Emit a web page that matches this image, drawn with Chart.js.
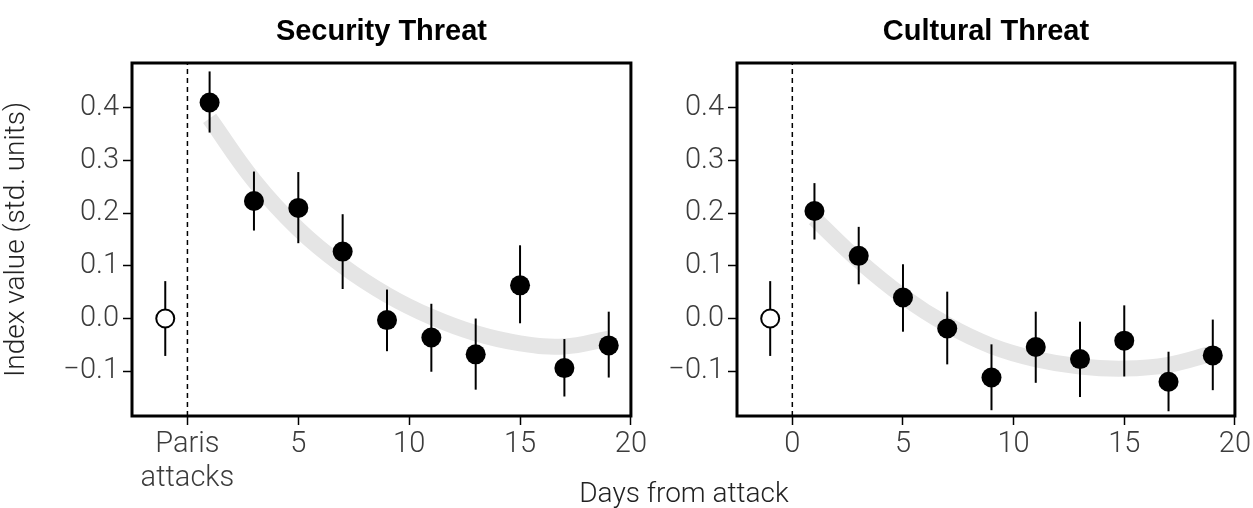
<!DOCTYPE html>
<html>
<head>
<meta charset="utf-8">
<script src="https://cdn.jsdelivr.net/npm/chart.js@4.4.1/dist/chart.umd.min.js"></script>
<style>
  body { margin: 0; background: #fff; }
  #wrap { position: relative; width: 1253px; height: 508px; }
  .panel { position: absolute; top: 0; height: 508px; }
  #xlab { position: absolute; left: 484px; width: 400px; top: 479px; text-align: center;
          font: 300 28px Roboto, "Liberation Sans", sans-serif; line-height: 1; color: #222; }
</style>
</head>
<body>
<div id="wrap">
  <div class="panel" style="left:0;width:649px"><canvas id="securityChart"></canvas></div>
  <div class="panel" style="left:645px;width:608px"><canvas id="culturalChart"></canvas></div>
  <div id="xlab">Days from attack</div>
</div>
<script>
// valori
const days = [1, 3, 5, 7, 9, 11, 13, 15, 17, 19];

const securityMean = [0.410, 0.223, 0.210, 0.127, -0.003, -0.036, -0.068, 0.063, -0.094, -0.051];
const securityLow  = [0.353, 0.167, 0.143, 0.056, -0.062, -0.101, -0.135, -0.009, -0.148, -0.112];
const securityHigh = [0.469, 0.279, 0.278, 0.198, 0.055, 0.028, 0.000, 0.139, -0.039, 0.013];
const securityFit  = [0.380, 0.262, 0.170, 0.100, 0.045, 0.003, -0.028, -0.047, -0.053, -0.038];

const culturalMean = [0.204, 0.119, 0.040, -0.019, -0.112, -0.054, -0.077, -0.042, -0.120, -0.070];
const culturalLow  = [0.150, 0.065, -0.025, -0.087, -0.174, -0.122, -0.149, -0.110, -0.176, -0.136];
const culturalHigh = [0.257, 0.174, 0.103, 0.051, -0.049, 0.013, -0.006, 0.025, -0.063, -0.002];
const culturalFit  = [0.190, 0.110, 0.042, -0.012, -0.052, -0.077, -0.091, -0.095, -0.088, -0.066];

// punto di riferimento prima dell'attacco
const baseDay = [-1];
const baseMean = [0];
const baseLow = [-0.071];
const baseHigh = [0.071];

const xTicks = [0, 5, 10, 15, 20];
const xTickLabelsSecurity = [['Paris', 'attacks'], '5', '10', '15', '20'];
const xTickLabelsCultural = ['0', '5', '10', '15', '20'];
const yTicks = [-0.1, 0, 0.1, 0.2, 0.3, 0.4];
const yTickLabels = ['\u22120.1', '0.0', '0.1', '0.2', '0.3', '0.4'];

const xMin = -2.5, xMax = 20;
const yMin = -0.185, yMax = 0.485;

Chart.defaults.font.family = 'Roboto, "Liberation Sans", sans-serif';
Chart.defaults.font.weight = '300';
Chart.defaults.font.size = 29;
Chart.defaults.color = '#3c3c3c';

// barre d'errore, cornice e titolo del pannello
const panelExtras = {
    id: 'panelExtras',
    beforeDatasetDraw(chart, args) {
        const ds = chart.data.datasets[args.index];
        if (!ds.low) return;
        const x = chart.scales.x, y = chart.scales.y, ctx = chart.ctx;
        ctx.save();
        ctx.strokeStyle = '#000';
        ctx.lineWidth = 2;
        ds.data.forEach((p, i) => {
            const px = x.getPixelForValue(p.x);
            ctx.beginPath();
            ctx.moveTo(px, y.getPixelForValue(ds.low[i]));
            ctx.lineTo(px, y.getPixelForValue(ds.high[i]));
            ctx.stroke();
        });
        ctx.restore();
    },
    afterDraw(chart, args, opts) {
        const a = chart.chartArea, ctx = chart.ctx;
        ctx.save();
        ctx.strokeStyle = '#000';
        ctx.lineWidth = 3;
        ctx.strokeRect(a.left, a.top, a.right - a.left, a.bottom - a.top);
        ctx.fillStyle = '#000';
        ctx.font = 'bold 29px "Liberation Sans", Arial, sans-serif';
        ctx.textAlign = 'center';
        ctx.textBaseline = 'alphabetic';
        ctx.fillText(opts.title, (a.left + a.right) / 2, 40);
        ctx.restore();
    }
};

function makePanel(canvasId, title, mean, low, high, fit, xLabels, yWidth, rightPad, yTitle) {
    const ctx = document.getElementById(canvasId).getContext('2d');
    return new Chart(ctx, {
        type: 'scatter',
        data: {
            datasets: [{
                data: days.map((d, i) => ({ x: d, y: mean[i] })),
                low: low, high: high,
                pointRadius: 10,
                backgroundColor: '#000',
                borderWidth: 0,
                order: 0
            }, {
                data: baseDay.map((d, i) => ({ x: d, y: baseMean[i] })),
                low: baseLow, high: baseHigh,
                pointRadius: 9,
                backgroundColor: '#fff',
                borderColor: '#000',
                borderWidth: 2,
                order: 1
            }, {
                data: [{ x: 0, y: yMin }, { x: 0, y: yMax }],
                showLine: true,
                borderColor: '#000',
                borderWidth: 1.5,
                borderDash: [5, 4],
                pointRadius: 0,
                order: 2
            }, {
                data: days.map((d, i) => ({ x: d, y: fit[i] })),
                showLine: true,
                borderColor: '#e5e5e5',
                borderWidth: 16,
                borderCapStyle: 'butt',
                tension: 0.4,
                pointRadius: 0,
                order: 3
            }]
        },
        options: {
            responsive: true,
            maintainAspectRatio: false,
            animation: false,
            layout: { padding: { top: 63, right: rightPad, left: 0, bottom: 0 } },
            plugins: {
                legend: { display: false },
                tooltip: { enabled: false },
                panelExtras: { title: title }
            },
            scales: {
                x: {
                    type: 'linear',
                    min: xMin, max: xMax,
                    afterBuildTicks: s => { s.ticks = xTicks.map(v => ({ value: v })); },
                    afterFit: s => { s.height = 92; },
                    ticks: { callback: (v, i) => xLabels[i], padding: 2, maxRotation: 0, autoSkip: false },
                    grid: { drawOnChartArea: false, drawTicks: true, tickLength: 9, tickColor: '#000', tickWidth: 1.5 },
                    border: { display: false }
                },
                y: {
                    min: yMin, max: yMax,
                    afterBuildTicks: s => { s.ticks = yTicks.map(v => ({ value: v })); },
                    afterFit: s => { s.width = yWidth; },
                    ticks: { callback: (v, i) => yTickLabels[i], padding: 4 },
                    grid: { drawOnChartArea: false, drawTicks: true, tickLength: 9, tickColor: '#000', tickWidth: 1.5 },
                    border: { display: false },
                    title: { display: !!yTitle, text: yTitle || '', color: '#222', font: { size: 28 }, padding: { top: 0, bottom: 6 } }
                }
            }
        },
        plugins: [panelExtras]
    });
}

window.securityChart = makePanel('securityChart', 'Security Threat', securityMean, securityLow, securityHigh,
    securityFit, xTickLabelsSecurity, 132, 18, 'Index value (std. units)');
window.culturalChart = makePanel('culturalChart', 'Cultural Threat', culturalMean, culturalLow, culturalHigh,
    culturalFit, xTickLabelsCultural, 92, 16, null);
</script>
</body>
</html>
